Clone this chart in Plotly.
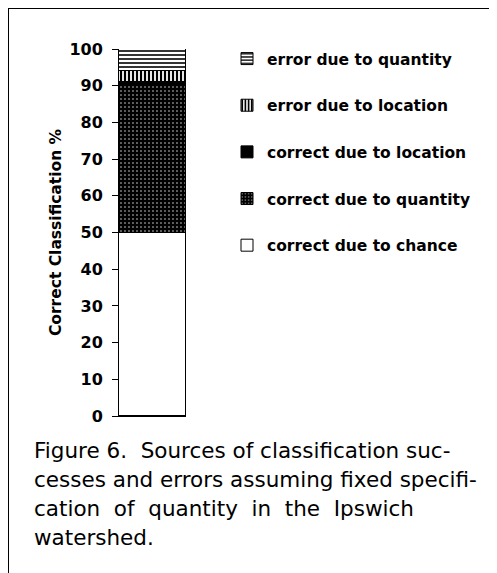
import plotly.graph_objects as go

categories = [""]
series_names = ["correct due to chance", "correct due to quantity", "correct due to location",
                "error due to location", "error due to quantity"]
chance = [50]
correct_quantity = [40]
correct_location = [1]
error_location = [3]
error_quantity = [6]
y_ticks = [0, 10, 20, 30, 40, 50, 60, 70, 80, 90, 100]
caption_lines = [
    "Figure 6.  Sources of classification suc-",
    "cesses and errors assuming fixed specifi-",
    "cation  of  quantity  in  the  Ipswich",
    "watershed.",
]

# page has an 8px body margin, so the figure is drawn from (8, 8)
OFF = 8
W, H = 497 - OFF, 573 - OFF
L, R, T, B = 119 - OFF, 186 - OFF, 49 - OFF, 416 - OFF
BOLD = "DejaVu Sans, Liberation Sans, Arial, sans-serif"

styles = [
    dict(color="white", pattern=None),
    dict(color="black", pattern=dict(shape=".", fgcolor="#dddddd", bgcolor="black", size=4, solidity=0.12, fillmode="replace")),
    dict(color="black", pattern=None),
    dict(color="white", pattern=dict(shape="|", fgcolor="black", bgcolor="white", size=4, solidity=0.55, fillmode="replace")),
    dict(color="white", pattern=dict(shape="-", fgcolor="black", bgcolor="white", size=4, solidity=0.4, fillmode="replace")),
]
values = [chance, correct_quantity, correct_location, error_location, error_quantity]

fig = go.Figure()
for i, (name, vals, st) in enumerate(zip(series_names, values, styles)):
    marker = dict(color=st["color"], line=dict(color="black", width=1))
    if st["pattern"]:
        marker["pattern"] = st["pattern"]
    fig.add_trace(go.Bar(x=categories, y=vals, name=name, marker=marker,
                         legendgroup=f"g{i}", legendrank=1000 - i, width=1))

def px_x(p):  # p in page pixels
    return (p - OFF - L) / (R - L)

def px_y(p):
    return (B - (p - OFF)) / (B - T)

fig.update_layout(
    width=W, height=H,
    margin=dict(l=L, r=W - R, t=T, b=H - B, pad=0, autoexpand=False),
    paper_bgcolor="white", plot_bgcolor="white",
    barmode="stack", bargap=0,
    font=dict(family=BOLD, color="black"),
    showlegend=True,
    legend=dict(
        x=px_x(227), y=px_y(42), xanchor="left", yanchor="top",
        traceorder="grouped", tracegroupgap=23.5,
        font=dict(size=15.5, family=BOLD, weight="bold", color="black"),
        bgcolor="rgba(0,0,0,0)", itemwidth=30,
    ),
    xaxis=dict(showticklabels=False, ticks="", showline=True, linecolor="black", linewidth=1,
               showgrid=False, zeroline=False, range=[-0.5, 0.5], automargin=False),
    yaxis=dict(range=[0, 100], tickvals=y_ticks, ticks="outside", ticklen=6, tickwidth=1,
               tickcolor="black", showline=True, linecolor="black", linewidth=1,
               showgrid=False, zeroline=False, automargin=False,
               tickfont=dict(size=16, weight="bold", family=BOLD),
               ticklabelstandoff=6,
               title=dict(text="Correct Classification %", standoff=3,
                          font=dict(size=15.5, weight="bold", family=BOLD))),
)

# outer frame of the figure
fig.add_shape(type="path", xref="paper", yref="paper",
              path=f"M {px_x(8)} {px_y(573)} L {px_x(8)} {px_y(8)} L {px_x(497)} {px_y(8)}",
              line=dict(color="black", width=2))

for k, line in enumerate(caption_lines):
    fig.add_annotation(text=line, xref="paper", yref="paper", x=px_x(32), y=px_y(450 + 29 * k),
                       xanchor="left", yanchor="middle", showarrow=False,
                       font=dict(size=21.5, family="DejaVu Sans, Liberation Sans, sans-serif", color="black"))

fig.write_html("out.html")
